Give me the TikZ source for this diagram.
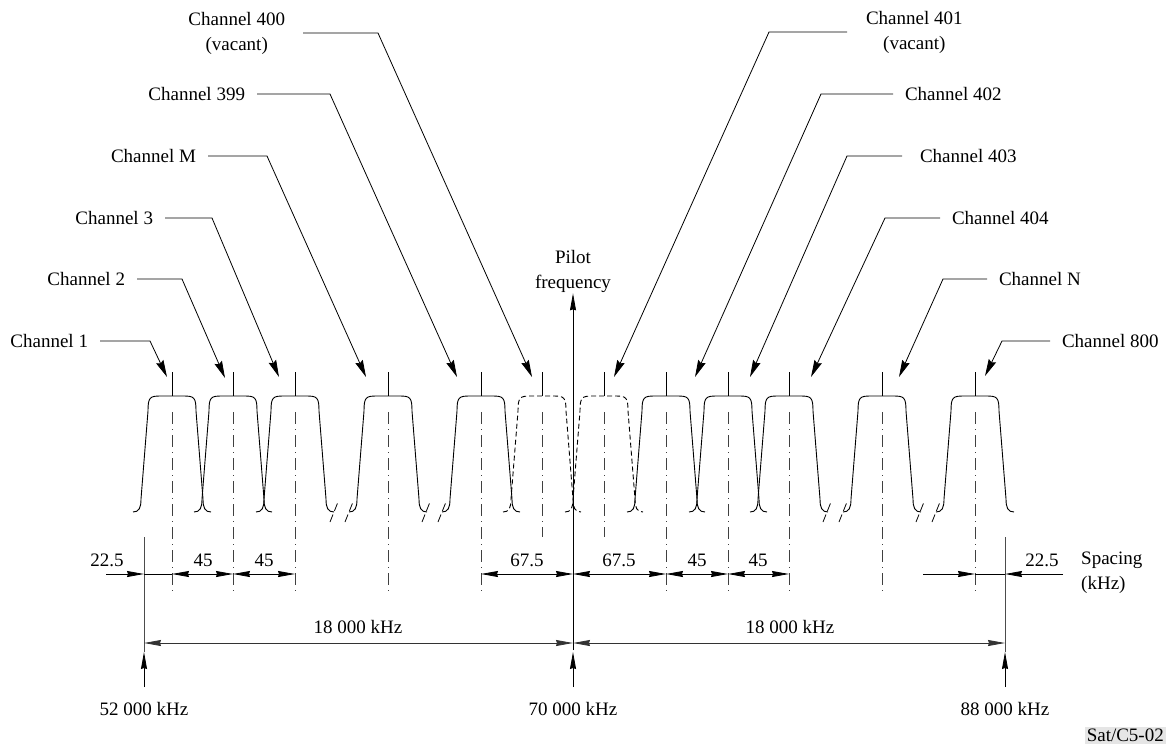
\documentclass[tikz,border=0pt]{standalone}
\usepackage{fontspec}
\setmainfont{Liberation Serif}
\usetikzlibrary{arrows.meta,positioning}

\tikzstyle{chlabel}=[font=\fontsize{19}{25}\selectfont, inner sep=2pt, outer sep=10pt, align=center]
\tikzstyle{dimtext}=[font=\fontsize{19}{25}\selectfont, inner sep=1pt]
\tikzstyle{leader}=[-{Stealth[length=17pt,width=8pt,inset=2pt]}, line width=0.8pt]
\tikzstyle{onearrow}=[-{Stealth[length=17pt,width=6pt,inset=1pt]}, line width=0.8pt]
\tikzstyle{dimarrow}=[{Stealth[length=17pt,width=6pt,inset=1pt]}-{Stealth[length=17pt,width=6pt,inset=1pt]}, line width=0.8pt]
\tikzstyle{chan}=[line width=0.9pt]
\tikzstyle{vacant}=[chan, dash pattern=on 5pt off 3pt]
\tikzstyle{centreline}=[black!75, line width=0.8pt, dash pattern=on 12pt off 5pt on 1pt off 5pt]
\tikzstyle{breakmark}=[line width=0.8pt, dash pattern=on 8pt off 4pt]
\tikzstyle{limit}=[black!70, line width=0.8pt]

% one channel filter curve, #1 = centre, #2 = style
\newcommand{\chanshape}[2]{%
  \draw[#2] (#1-39,512) .. controls (#1-33,512) and (#1-31,508) .. (#1-31,499)
    -- (#1-24,411) .. controls (#1-24,397) and (#1-22,396) .. (#1-11,396)
    -- (#1+11,396) .. controls (#1+22,396) and (#1+24,397) .. (#1+24,411)
    -- (#1+31,499) .. controls (#1+31,508) and (#1+33,512) .. (#1+39,512);
  \draw[chan] (#1,372) -- (#1,396);
}

\begin{document}
\begin{tikzpicture}[x=1pt, y=-1pt]
    \useasboundingbox (0,0) rectangle (1166,744);

    % channels
    \foreach \c in {172,233,295,388,481,666,728,789,882,975} {
        \chanshape{\c}{chan}
        \draw[centreline] (\c,412) -- (\c,595);
    }
    \foreach \c in {542,604} {
        \chanshape{\c}{vacant}
        \draw[centreline] (\c,412) -- (\c,537);
    }
    \foreach \b in {330,345,422,438,823,839,916,932}
        \draw[breakmark] (\b,522) -- (\b+8,502);

    % pilot
    \node[dimtext, align=center] (pilot) at (573,271) {Pilot\\frequency};
    \coordinate (pilotfoot) at (573,650);
    \draw[onearrow] (pilotfoot) -- (pilot.south);

    % channel labels, left
    \node[chlabel, anchor=east] (lab1) at (100,341) {Channel 1};
    \coordinate (k1) at (150,341); \coordinate (t1) at (167,377);
    \draw[leader] (lab1.east) -- (k1) -- (t1);

    \node[chlabel, anchor=east] (lab2) at (137,279) {Channel 2};
    \coordinate (k2) at (182,279); \coordinate (t2) at (225,378);
    \draw[leader] (lab2.east) -- (k2) -- (t2);

    \node[chlabel, anchor=east] (lab3) at (165,218) {Channel 3};
    \coordinate (k3) at (212,218); \coordinate (t3) at (279,377);
    \draw[leader] (lab3.east) -- (k3) -- (t3);

    \node[chlabel, anchor=east] (labM) at (208,156) {Channel M};
    \coordinate (kM) at (267,156); \coordinate (tM) at (366,377);
    \draw[leader] (labM.east) -- (kM) -- (tM);

    \node[chlabel, anchor=east] (lab399) at (257,94) {Channel 399};
    \coordinate (k399) at (330,94); \coordinate (t399) at (457,377);
    \draw[leader] (lab399.east) -- (k399) -- (t399);

    \node[chlabel, anchor=east, outer sep=16pt] (lab400) at (303,33) {Channel 400\\(vacant)};
    \coordinate (k400) at (378,33); \coordinate (t400) at (532,377);
    \draw[leader] (lab400.east) -- (k400) -- (t400);

    % channel labels, right
    \node[chlabel, anchor=west, outer sep=17pt] (lab401) at (847,32) {Channel 401\\(vacant)};
    \coordinate (k401) at (769,32); \coordinate (t401) at (614,377);
    \draw[leader] (lab401.west) -- (k401) -- (t401);

    \node[chlabel, anchor=west] (lab402) at (893,94) {Channel 402};
    \coordinate (k402) at (821,94); \coordinate (t402) at (695,377);
    \draw[leader] (lab402.west) -- (k402) -- (t402);

    \node[chlabel, anchor=west, outer sep=16pt] (lab403) at (902,156) {Channel 403};
    \coordinate (k403) at (847,156); \coordinate (t403) at (750,377);
    \draw[leader] (lab403.west) -- (k403) -- (t403);

    \node[chlabel, anchor=west] (lab404) at (940,218) {Channel 404};
    \coordinate (k404) at (885,218); \coordinate (t404) at (811,377);
    \draw[leader] (lab404.west) -- (k404) -- (t404);

    \node[chlabel, anchor=west] (labN) at (987,279) {Channel N};
    \coordinate (kN) at (943,279); \coordinate (tN) at (899,377);
    \draw[leader] (labN.west) -- (kN) -- (tN);

    \node[chlabel, anchor=west] (lab800) at (1050,341) {Channel 800};
    \coordinate (k800) at (1002,341); \coordinate (t800) at (985,376);
    \draw[leader] (lab800.west) -- (k800) -- (t800);

    % spacing row
    \draw[limit] (144,537) -- (144,652);
    \draw[limit] (1005,537) -- (1005,652);
    \draw[onearrow] (106,574) -- (144,574);
    \draw[line width=0.8pt] (144,574) -- (172,574);
    \node[dimtext] (sp1) at (107,560) {22.5};
    \draw[dimarrow] (172,574) -- (233,574);
    \node[dimtext] (sp2) at (203,560) {45};
    \draw[dimarrow] (233,574) -- (295,574);
    \node[dimtext] (sp3) at (264,560) {45};
    \draw[dimarrow] (481,574) -- (573,574);
    \node[dimtext] (sp4) at (527,560) {67.5};
    \draw[dimarrow] (573,574) -- (666,574);
    \node[dimtext] (sp5) at (619,560) {67.5};
    \draw[dimarrow] (666,574) -- (728,574);
    \node[dimtext] (sp6) at (697,560) {45};
    \draw[dimarrow] (728,574) -- (789,574);
    \node[dimtext] (sp7) at (758,560) {45};
    \draw[onearrow] (923,574) -- (975,574);
    \draw[line width=0.8pt] (975,574) -- (1005,574);
    \draw[onearrow] (1063,574) -- (1005,574);
    \node[dimtext] (sp8) at (1042,560) {22.5};
    \node[dimtext, anchor=west, align=left] (spacing) at (1080,573) {Spacing\\(kHz)};

    % band
    \draw[dimarrow, black!80] (144,643) -- (573,643);
    \node[dimtext] (band1) at (358,627) {18 000 kHz};
    \draw[dimarrow, black!80] (573,643) -- (1005,643);
    \node[dimtext] (band2) at (790,627) {18 000 kHz};

    \node[dimtext] (f1) at (144,709) {52 000 kHz};
    \node[dimtext] (f2) at (573,709) {70 000 kHz};
    \node[dimtext] (f3) at (1005,709) {88 000 kHz};
    \draw[onearrow] (144,687) -- (144,652);
    \draw[onearrow] (573,687) -- (573,652);
    \draw[onearrow] (1005,687) -- (1005,652);

    \node[dimtext, anchor=south east, fill=black!10, inner sep=2pt] (ref) at (1166,744) {Sat/C5-02};
\end{tikzpicture}
\end{document}
